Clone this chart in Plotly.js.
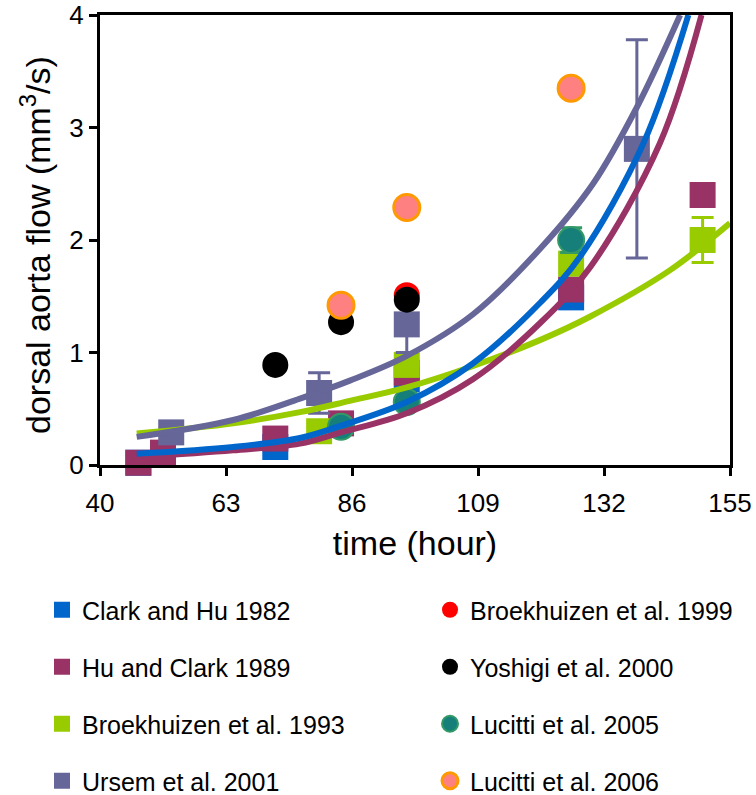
<!DOCTYPE html>
<html>
<head>
<meta charset="utf-8">
<script src="https://cdn.plot.ly/plotly-3.0.1.min.js"></script>
<style>html,body{margin:0;padding:0;background:#fff;}#chart{width:756px;height:795px;}</style>
</head>
<body>
<div id="chart"></div>
<script>
// ---- data ----
const seriesNames = ["Clark and Hu 1982", "Hu and Clark 1989", "Broekhuizen et al. 1993", "Ursem et al. 2001",
                     "Broekhuizen et al. 1999", "Yoshigi et al. 2000", "Lucitti et al. 2005", "Lucitti et al. 2006"];
const xTitle = "time (hour)";
const yTitle = "dorsal aorta flow (mm<sup>3</sup>/s)";

const clarkX = [47, 72, 96, 126];
const clarkY = [0.02, 0.16, 0.76, 1.49];

const huX = [47, 51.5, 72, 84, 96, 126, 150];
const huY = [0.02, 0.11, 0.235, 0.37, 0.82, 1.56, 2.4];

const broek93X = [80, 96, 126, 150];
const broek93Y = [0.30, 0.89, 1.79, 2.0];
const broek93Err = [0, 0, 0, 0.2];

const ursemX = [53, 80, 96, 138];
const ursemY = [0.29, 0.64, 1.25, 2.81];
const ursemErr = [0, 0.18, 0.25, 0.97];

const broek99X = [96];
const broek99Y = [1.51];

const yoshigiX = [72, 84, 96];
const yoshigiY = [0.89, 1.27, 1.47];

const luc05X = [84, 96, 126];
const luc05Y = [0.34, 0.56, 2.0];
const luc05Err = [0, 0, 0.11];

const luc06X = [84, 96, 126];
const luc06Y = [1.42, 2.29, 3.35];

// fitted trend curves
const fitClarkX = [46.7, 64.3, 76.5, 84, 96, 108, 120.3, 127.6, 139.2, 147.4];
const fitClarkY = [0.10, 0.16, 0.24, 0.35, 0.56, 0.90, 1.44, 1.85, 2.86, 4.0];
const fitHuX = [46.7, 64.3, 76.5, 84, 96, 108, 120.3, 129.5, 142.2, 149.8];
const fitHuY = [0.07, 0.13, 0.19, 0.29, 0.46, 0.76, 1.26, 1.76, 2.86, 4.0];
const fitUrsemX = [46.7, 64.3, 76.5, 85.6, 96, 108.1, 120.3, 130, 138, 145.9];
const fitUrsemY = [0.25, 0.40, 0.59, 0.75, 0.97, 1.34, 1.92, 2.5, 3.18, 4.0];
const fitBroekX = [46.7, 64.3, 76.5, 85.6, 96, 108.1, 120.3, 129.5, 144, 155];
const fitBroekY = [0.28, 0.37, 0.47, 0.57, 0.69, 0.88, 1.11, 1.32, 1.73, 2.15];

const xTicks = [40, 63, 86, 109, 132, 155];
const yTicks = [0, 1, 2, 3, 4];

// ---- styling ----
const C_BLUE = "#0066CC", C_MAROON = "#993366", C_GREEN = "#99CC00", C_PURPLE = "#666699";
const FONT = "Liberation Sans, Arial, sans-serif";
const MS = 26;

function pts(x, y, name, leg, marker, err, errColor) {
  const t = {
    type: "scatter", mode: "markers", x: x, y: y, name: name, legend: leg,
    marker: marker, cliponaxis: false, hoverinfo: "skip"
  };
  if (err) {
    t.error_y = {type: "data", array: err, visible: true, color: errColor, thickness: 3, width: 11};
  }
  return t;
}
function fit(x, y, color) {
  return {type: "scatter", mode: "lines", x: x, y: y, showlegend: false,
          line: {color: color, width: 6, shape: "spline", smoothing: 1.0}, hoverinfo: "skip"};
}

const traces = [
  pts(clarkX, clarkY, seriesNames[0], "legend", {symbol: "square", size: MS, color: C_BLUE}),
  pts(huX, huY, seriesNames[1], "legend2", {symbol: "square", size: MS, color: C_MAROON}),
  pts(broek93X, broek93Y, seriesNames[2], "legend3", {symbol: "square", size: MS, color: C_GREEN}, broek93Err, C_GREEN),
  pts(ursemX, ursemY, seriesNames[3], "legend4", {symbol: "square", size: MS, color: C_PURPLE}, ursemErr, C_PURPLE),
  pts(broek99X, broek99Y, seriesNames[4], "legend5", {symbol: "circle", size: MS, color: "#FF0000"}),
  pts(yoshigiX, yoshigiY, seriesNames[5], "legend6", {symbol: "circle", size: MS, color: "#000000"}),
  pts(luc05X, luc05Y, seriesNames[6], "legend7", {symbol: "circle", size: MS, color: "#177F7A", line: {color: "#339966", width: 2}}, luc05Err, "#339966"),
  pts(luc06X, luc06Y, seriesNames[7], "legend8", {symbol: "circle", size: MS, color: "#FF8080", line: {color: "#FF9900", width: 3}}),
  fit(fitBroekX, fitBroekY, C_GREEN),
  fit(fitHuX, fitHuY, C_MAROON),
  fit(fitClarkX, fitClarkY, C_BLUE),
  fit(fitUrsemX, fitUrsemY, C_PURPLE)
];

const H = 795;
const rowY = [610, 667, 724, 781];
function leg(xpx, ypx) {
  return {x: xpx / 756, y: 1 - ypx / H, xref: "container", yref: "container",
          xanchor: "left", yanchor: "middle", bgcolor: "rgba(0,0,0,0)",
          font: {family: FONT, size: 25, color: "#000"}, itemclick: false, itemdoubleclick: false};
}

const layout = {
  width: 756, height: 795,
  margin: {l: 100, r: 26, t: 15, b: 330, autoexpand: false},
  paper_bgcolor: "#fff", plot_bgcolor: "#fff",
  font: {family: FONT, color: "#000"},
  xaxis: {
    range: [40, 155], tickvals: xTicks, ticktext: xTicks.map(String), tickangle: 0, automargin: false,
    showgrid: false, zeroline: false, showline: true, linecolor: "#000", linewidth: 3, mirror: true,
    ticks: "outside", ticklen: 8, tickwidth: 3, tickcolor: "#000", ticklabelstandoff: 5,
    tickfont: {family: FONT, size: 26, color: "#000"},
    title: {text: xTitle, font: {family: FONT, size: 34, color: "#000"}, standoff: 14}
  },
  yaxis: {
    range: [0, 4], tickvals: yTicks, ticktext: yTicks.map(String), automargin: false,
    showgrid: false, zeroline: false, showline: true, linecolor: "#000", linewidth: 3, mirror: true,
    ticks: "outside", ticklen: 8, tickwidth: 3, tickcolor: "#000",
    tickfont: {family: FONT, size: 26, color: "#000"}
  },
  annotations: [{
    text: yTitle, xref: "paper", yref: "paper", x: (36 - 100) / 630, y: (465 - 245) / 450,
    xanchor: "center", yanchor: "middle", textangle: -90, showarrow: false,
    font: {family: FONT, size: 34, color: "#000"}
  }],
  legend: leg(42, rowY[0]),
  legend2: leg(42, rowY[1]),
  legend3: leg(42, rowY[2]),
  legend4: leg(42, rowY[3]),
  legend5: leg(430, rowY[0]),
  legend6: leg(430, rowY[1]),
  legend7: leg(430, rowY[2]),
  legend8: leg(430, rowY[3]),
  showlegend: true
};

Plotly.newPlot("chart", traces, layout, {displayModeBar: false, staticPlot: true});
</script>
</body>
</html>
